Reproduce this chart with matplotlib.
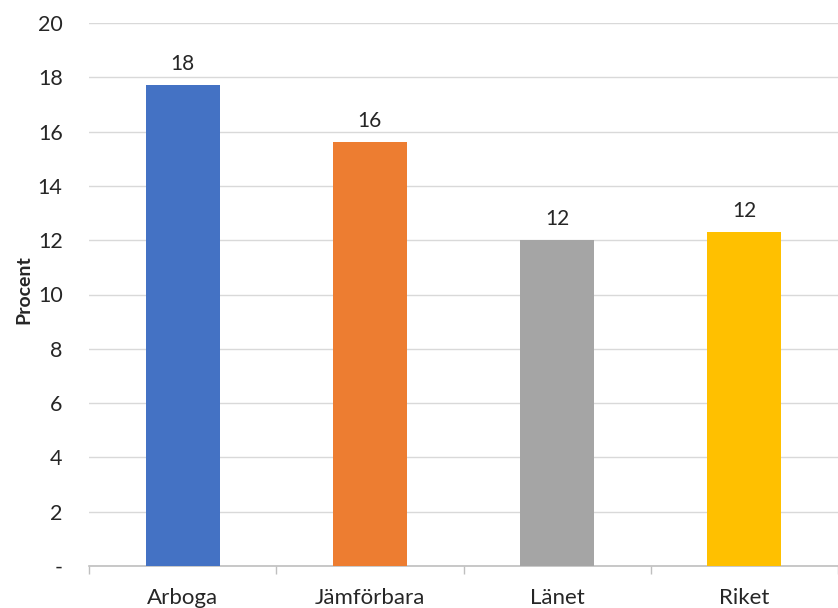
import matplotlib.pyplot as plt

categories = ['Arboga', 'Jämförbara', 'Länet', 'Riket']
values = [17.7, 15.6, 12.0, 12.3]
colors = ['#4472C4', '#ED7D31', '#A5A5A5', '#FFC000']
y_ticks = [0, 2, 4, 6, 8, 10, 12, 14, 16, 18, 20]
y_tick_labels = ['-'] + [str(t) for t in y_ticks[1:]]

plt.rcParams['font.family'] = ['Lato', 'DejaVu Sans']

fig = plt.figure(figsize=(8.38, 6.08), dpi=100)
ax = fig.add_axes([89 / 838, 42 / 608, 749 / 838, 543 / 608])

x = list(range(len(categories)))
bars = ax.bar(x, values, width=0.395, color=colors, zorder=3)

for xi, v in zip(x, values):
    ax.annotate(f'{v:.0f}', (xi, v), xytext=(0, 8), textcoords='offset points',
                ha='center', va='bottom', fontsize=15, color='#262626')

ax.set_xlim(-0.5, -0.5 + 749 / 188.5)
ax.set_ylim(0, 20)
ax.set_yticks(y_ticks)
ax.set_yticklabels(y_tick_labels, fontsize=15.5, color='#262626')
ax.yaxis.grid(True, color='#d9d9d9', linewidth=1, zorder=0)
ax.tick_params(axis='y', length=0, pad=19)

# category ticks between bars
ax.set_xticks(x)
ax.set_xticklabels(categories, fontsize=16, color='#262626')
ax.set_xticks([i - 0.5 for i in range(len(categories) + 1)], minor=True)
ax.tick_params(axis='x', which='major', length=0, pad=16)
ax.tick_params(axis='x', which='minor', length=6, color='#bfbfbf', width=1)

for side in ['top', 'right', 'left']:
    ax.spines[side].set_visible(False)
ax.spines['bottom'].set_color('#bfbfbf')
ax.spines['bottom'].set_linewidth(1.2)

ax.set_ylabel('Procent', fontsize=14, fontweight='bold', color='#262626', va='center')
ax.yaxis.set_label_coords(-0.087, 0.51)

fig.savefig('out.png', dpi=100)
